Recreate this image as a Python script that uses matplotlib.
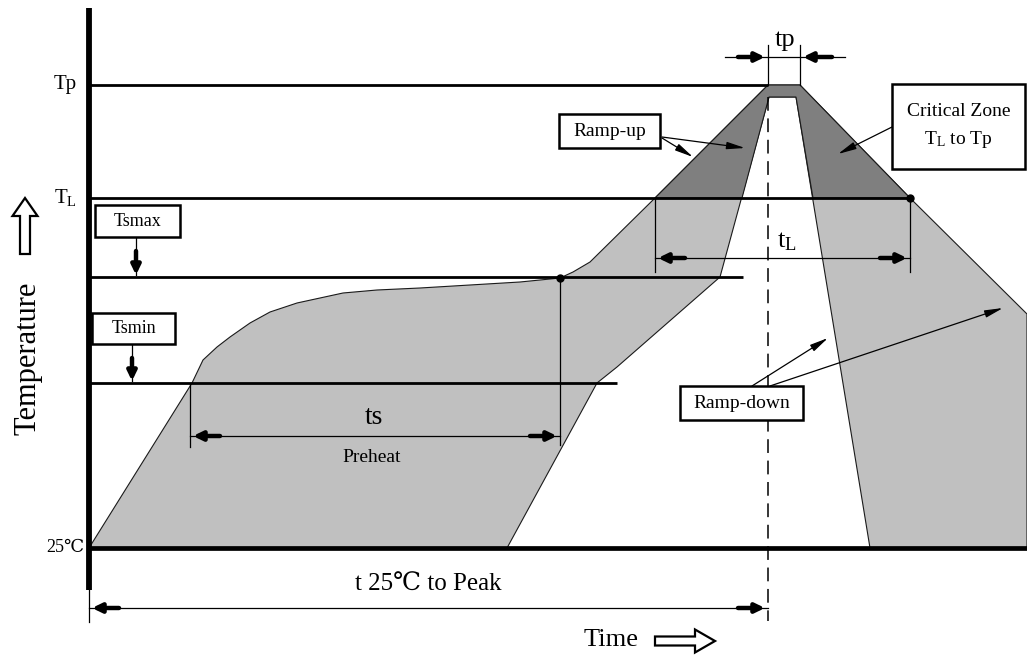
import matplotlib
matplotlib.use("Agg")
import matplotlib.pyplot as plt
import matplotlib.patches as mpatches

plt.rcParams["mathtext.fontset"] = "custom"
plt.rcParams["mathtext.rm"] = "Liberation Serif"
FONT = ["Liberation Serif", "DejaVu Serif"]

W, H = 1027, 658          # picture units: time to the right, temperature downwards
T0 = 89                   # time origin (temperature axis)

# temperature levels and where their guide lines stop
LEVEL_LABELS = ["Tp", r"$\mathrm{T_L}$", None, None, "25\u2103"]
LEVEL_Y = [85, 198, 277, 383, 548]
LEVEL_END = [768, 910, 743, 617, 1027]
LEVEL_LW = [2.0, 2.0, 2.0, 2.0, 3.4]

# envelope of allowed profiles (light grey)
ENV_T = [89, 192, 203, 217, 230, 250, 270, 297, 320, 343, 377, 420, 470, 520,
         560, 573, 590, 655, 768, 800, 910, 1027, 1027, 870, 796, 769, 720,
         617, 597, 507]
ENV_Y = [548, 383, 360, 347, 337, 323, 312, 303, 298, 293, 290, 288, 285, 282,
         278, 272, 262, 198, 85, 85, 198, 314, 548, 548, 97, 97, 277,
         367, 383, 548]

# critical zone TL..Tp (dark grey)
CRIT_T = [655, 768, 800, 910, 813, 796, 769, 742]
CRIT_Y = [198, 85, 85, 198, 198, 97, 97, 198]

T_PEAK = 768

# dimension lines: name, start, end, height, extension line tops/bottoms
DIM_NAMES = ["ts", "tL", "t25", "tp"]
DIM_START = [190, 655, 89, 768]
DIM_END = [560, 910, 768, 800]
DIM_Y = [436, 258, 608, 57]
EXT_FROM = [(383, 277), (198, 198), (590, None), (85, 85)]
EXT_TO = [(447, 445), (272, 272), (622, None), (45, 45)]

# labelled boxes
BOX_TEXT = ["Tsmax", "Tsmin", "Ramp-up", "Critical Zone\n" + r"$\mathrm{T_L}$ to Tp", "Ramp-down"]
BOX_X = [(95, 180), (92, 175), (559, 660), (892, 1025), (680, 803)]
BOX_Y = [(205, 237), (313, 344), (114, 148), (84, 169), (386, 420)]

# pointer arrows from the boxes: (from, to)
POINTERS = [((662, 137), (745, 148)), ((662, 138), (693, 157)),
            ((892, 127), (838, 154)),
            ((752, 386), (828, 338)), ((770, 386), (1003, 308))]
LEVEL_POINTERS = [((136, 237), (136, 275)), ((132, 344), (132, 381))]


def block_arrow(ax, tail, tip):
    ax.annotate("", xy=tip, xytext=tail,
                arrowprops=dict(arrowstyle="-|>,head_length=0.45,head_width=0.22",
                                lw=3.2, color="black", shrinkA=0, shrinkB=0,
                                mutation_scale=12))


def thin_arrow(ax, tail, tip):
    ax.annotate("", xy=tip, xytext=tail,
                arrowprops=dict(arrowstyle="-|>,head_length=1.1,head_width=0.22",
                                lw=0.9, color="black", shrinkA=0, shrinkB=0,
                                mutation_scale=10))


fig = plt.figure(figsize=(W / 100, H / 100), dpi=100)
ax = fig.add_axes([0, 0, 1, 1])
ax.set_xlim(0, W)
ax.set_ylim(H, 0)
ax.axis("off")

ax.add_patch(mpatches.Polygon(list(zip(ENV_T, ENV_Y)), closed=True,
                              fc="#c0c0c0", ec="#1a1a1a", lw=0.8, zorder=1))
ax.add_patch(mpatches.Polygon(list(zip(CRIT_T, CRIT_Y)), closed=True,
                              fc="#7f7f7f", ec="#1a1a1a", lw=0.8, zorder=2))

# temperature axis and guide lines
ax.plot([T0, T0], [8, 590], color="black", lw=4.2, solid_capstyle="butt", zorder=5)
for lab, y, xe, lw in zip(LEVEL_LABELS, LEVEL_Y, LEVEL_END, LEVEL_LW):
    ax.plot([T0, xe], [y, y], color="black", lw=lw, solid_capstyle="butt", zorder=4)
    if lab:
        ax.text(T0 - 24, y, lab, ha="center", va="center",
                fontsize=15 if "25" not in lab else 13, family=FONT)

ax.plot([T_PEAK, T_PEAK], [97, 621], color="black", lw=1.1,
        ls=(0, (9, 5)), zorder=3)
ax.plot([560, 910], [278, 198], ls="none", marker="o", ms=5, color="black", zorder=6)

# dimension lines
for name, xs, xe, y, ef, et in zip(DIM_NAMES, DIM_START, DIM_END, DIM_Y,
                                   EXT_FROM, EXT_TO):
    for x, a, b in [(xs, ef[0], et[0]), (xe, ef[1], et[1])]:
        if a is not None:
            ax.plot([x, x], [a, b], color="black", lw=0.9, zorder=4)
    if name == "tp":
        ax.plot([xs - 43, xe + 45], [y, y], color="black", lw=0.9, zorder=4)
        block_arrow(ax, (xs - 30, y), (xs - 3, y))
        block_arrow(ax, (xe + 32, y), (xe + 3, y))
    else:
        ax.plot([xs, xe], [y, y], color="black", lw=0.9, zorder=4)
        block_arrow(ax, (xs + 30, y), (xs + 3, y))
        block_arrow(ax, (xe - 30, y), (xe - 3, y))

ax.text(374, 418, "ts", ha="center", va="center", fontsize=20, family=FONT)
ax.text(372, 458, "Preheat", ha="center", va="center", fontsize=14, family=FONT)
ax.text(785, 40, "tp", ha="center", va="center", fontsize=19, family=FONT)
ax.text(787, 240, r"$\mathrm{t_L}$", ha="center", va="center", fontsize=19)
ax.text(428, 585, "t 25\u2103 to Peak", ha="center", va="center", fontsize=18, family=FONT)

# boxes
for txt, (x0, x1), (y0, y1) in zip(BOX_TEXT, BOX_X, BOX_Y):
    ax.add_patch(mpatches.Rectangle((x0, y0), x1 - x0, y1 - y0, fc="white",
                                    ec="black", lw=1.8, zorder=7))
    ax.text((x0 + x1) / 2, (y0 + y1) / 2, txt, ha="center", va="center",
            fontsize=13 if txt.startswith("Ts") else 14, family=FONT,
            linespacing=1.6, zorder=8)
for tail, tip in POINTERS:
    thin_arrow(ax, tail, tip)
for tail, tip in LEVEL_POINTERS:
    ax.plot([tail[0], tip[0]], [tail[1], tip[1]], color="black", lw=0.9, zorder=4)
    block_arrow(ax, (tail[0], tail[1] + 14), tip)

# axis titles with hollow arrows
ax.text(28, 358, "Temperature", rotation=90, ha="center", va="center",
        fontsize=22, family=FONT)
ax.add_patch(mpatches.FancyArrow(25, 254, 0, -56, width=10, head_width=25,
                                 head_length=18, length_includes_head=True,
                                 fc="white", ec="black", lw=1.6))
ax.text(611, 640, "Time", ha="center", va="center", fontsize=19, family=FONT)
ax.add_patch(mpatches.FancyArrow(655, 641, 60, 0, width=9, head_width=23,
                                 head_length=20, length_includes_head=True,
                                 fc="white", ec="black", lw=1.6))

fig.savefig("out.png", dpi=100)
